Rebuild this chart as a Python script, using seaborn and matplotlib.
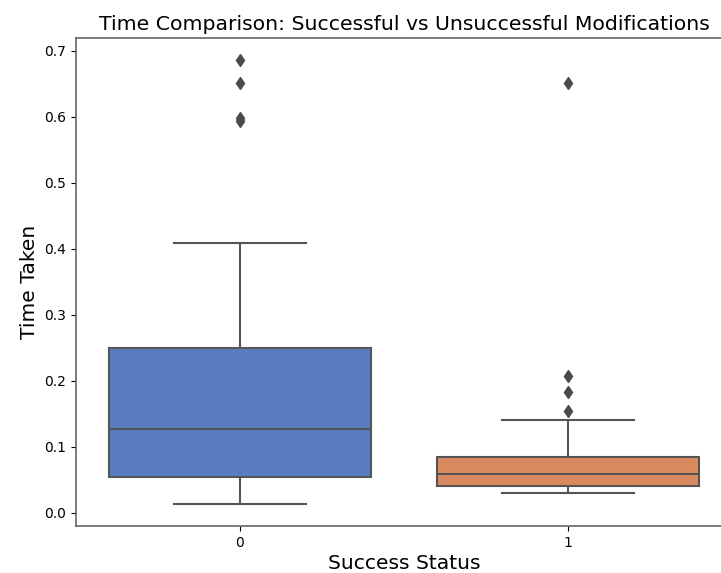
import matplotlib
matplotlib.use("Agg")
import matplotlib.pyplot as plt
import pandas as pd
import seaborn as sns

# Time taken per modification
time_failed = [0.0132, 0.021, 0.029, 0.036, 0.042, 0.049, 0.0536, 0.066, 0.078,
               0.091, 0.104, 0.117, 0.1265, 0.142, 0.158, 0.176, 0.198, 0.224,
               0.250, 0.312, 0.408, 0.594, 0.598, 0.651, 0.686]
time_success = [0.0293, 0.031, 0.033, 0.034, 0.036, 0.037, 0.038, 0.0395, 0.042,
                0.044, 0.047, 0.050, 0.053, 0.056, 0.0587, 0.062, 0.065, 0.069,
                0.073, 0.077, 0.081, 0.084, 0.097, 0.118, 0.1407, 0.1534, 0.1827,
                0.207, 0.651]
status_labels = [0, 1]

data = pd.DataFrame({
    'Success Status': [status_labels[0]] * len(time_failed) + [status_labels[1]] * len(time_success),
    'Time Taken': time_failed + time_success,
})

fig = plt.figure(figsize=(7.21, 5.73), dpi=100)
ax = fig.add_axes([76 / 721, 1 - 526 / 573, (732 - 76) / 721, (526 - 38) / 573])

sns.boxplot(data=data, x='Success Status', y='Time Taken', hue='Success Status',
            palette='muted', legend=False, linewidth=1.5, linecolor='#555555',
            flierprops=dict(marker='d', markerfacecolor='#4a4a4a',
                            markeredgecolor='#4a4a4a', markersize=6), ax=ax)

ax.set_title('Time Comparison: Successful vs Unsuccessful Modifications', fontsize=14.7)
ax.set_xlabel('Success Status', fontsize=14.6, labelpad=3)
ax.set_ylabel('Time Taken', fontsize=14.6)
for side in ['left', 'bottom', 'top', 'right']:
    ax.spines[side].set_color('#666666')
    ax.spines[side].set_linewidth(1.2)

fig.savefig('out.png', dpi=100)
